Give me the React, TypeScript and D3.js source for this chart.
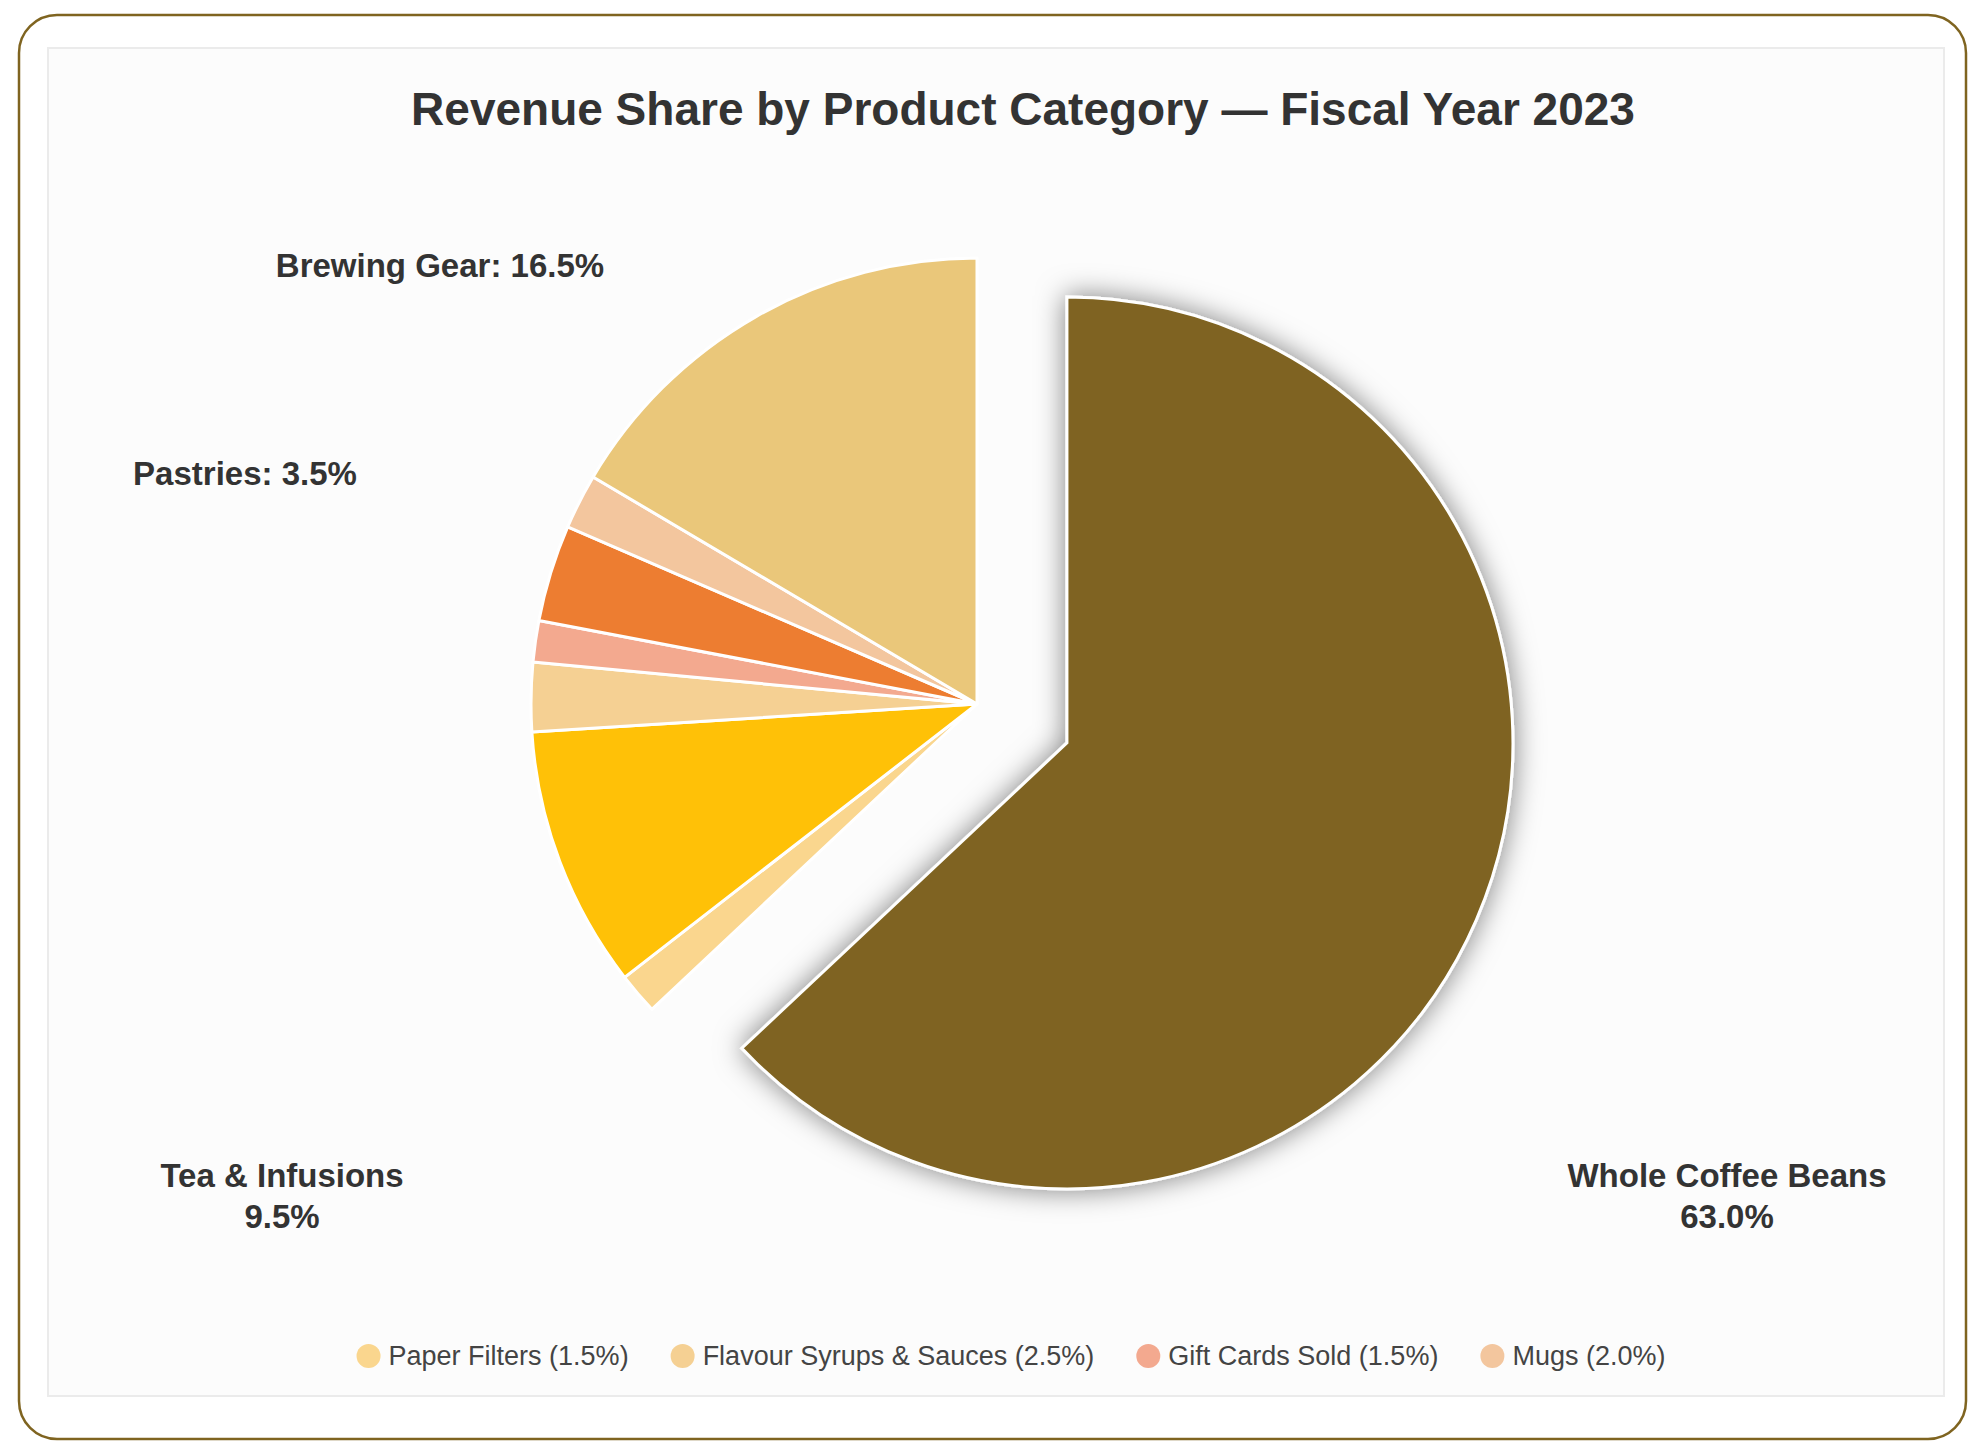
import React from 'react';
import * as d3 from 'd3';

// ---------- data ----------
const titleText = 'Revenue Share by Product Category — Fiscal Year 2023';
const categories = [
  'Whole Coffee Beans',
  'Paper Filters',
  'Tea & Infusions',
  'Flavour Syrups & Sauces',
  'Gift Cards Sold',
  'Pastries',
  'Mugs',
  'Brewing Gear',
];
const shares = [63.0, 1.5, 9.5, 2.5, 1.5, 3.5, 2.0, 16.5];
const sliceColors = ['#7F6420', '#FAD68E', '#FFC107', '#F5D093', '#F3A98F', '#ED7D31', '#F3C69E', '#EAC77A'];
const explodedCategory = 'Whole Coffee Beans';
const legendCategories = ['Paper Filters', 'Flavour Syrups & Sauces', 'Gift Cards Sold', 'Mugs'];

// ---------- layout (not data) ----------
const W = 1969;
const H = 1442;
const FONT = "'Liberation Sans', Arial, sans-serif";
const CX = 977;
const CY = 704;
const R = 446;
const EXPLODE = 98;
const labelLayout: Record<string, { x: number; y: number; twoLines: boolean }> = {
  'Brewing Gear': { x: 440, y: 266, twoLines: false },
  Pastries: { x: 245, y: 474, twoLines: false },
  'Tea & Infusions': { x: 282, y: 1196, twoLines: true },
  'Whole Coffee Beans': { x: 1727, y: 1196, twoLines: true },
};

export default function App() {
  const ref = React.useRef<SVGSVGElement>(null);

  React.useEffect(() => {
    const svg = d3.select(ref.current as SVGSVGElement);
    svg.selectAll('*').remove();

    const defs = svg.append('defs');
    const sf = defs
      .append('filter')
      .attr('id', 'sliceShadow')
      .attr('x', '-30%')
      .attr('y', '-30%')
      .attr('width', '160%')
      .attr('height', '160%');
    sf.append('feDropShadow')
      .attr('dx', 0)
      .attr('dy', 0)
      .attr('stdDeviation', 14)
      .attr('flood-color', '#000')
      .attr('flood-opacity', 0.5);

    svg.append('rect').attr('width', W).attr('height', H).attr('fill', '#ffffff');
    svg
      .append('rect')
      .attr('x', 19)
      .attr('y', 15)
      .attr('width', 1947)
      .attr('height', 1424)
      .attr('rx', 38)
      .attr('fill', '#ffffff')
      .attr('stroke', '#7F6420')
      .attr('stroke-width', 2.5);
    svg
      .append('rect')
      .attr('x', 48)
      .attr('y', 48)
      .attr('width', 1896)
      .attr('height', 1348)
      .attr('fill', '#fcfcfc')
      .attr('stroke', '#ebebeb')
      .attr('stroke-width', 2);

    // title
    svg
      .append('text')
      .attr('x', 1023)
      .attr('y', 125)
      .attr('text-anchor', 'middle')
      .attr('font-family', FONT)
      .attr('font-size', 46)
      .attr('font-weight', 'bold')
      .attr('fill', '#333333')
      .text(titleText);

    // pie
    type Datum = { name: string; value: number; color: string };
    const data: Datum[] = categories.map((c, i) => ({ name: c, value: shares[i], color: sliceColors[i] }));
    const pie = d3
      .pie<Datum>()
      .sort(null)
      .value((d) => d.value)
      .startAngle(0)
      .endAngle(Math.PI * 2);
    const arcs = pie(data);
    const arc = d3.arc<d3.PieArcDatum<Datum>>().innerRadius(0).outerRadius(R);

    const g = svg.append('g').attr('transform', `translate(${CX},${CY})`);
    const normal = arcs.filter((a) => a.data.name !== explodedCategory);
    const exploded = arcs.filter((a) => a.data.name === explodedCategory);

    g.selectAll('path.normal')
      .data(normal)
      .join('path')
      .attr('class', 'normal')
      .attr('d', (d) => arc(d) as string)
      .attr('fill', (d) => d.data.color)
      .attr('stroke', '#ffffff')
      .attr('stroke-width', 3)
      .attr('stroke-linejoin', 'round');

    g.selectAll('path.exploded')
      .data(exploded)
      .join('path')
      .attr('class', 'exploded')
      .attr('transform', (d) => {
        const mid = (d.startAngle + d.endAngle) / 2;
        return `translate(${Math.sin(mid) * EXPLODE},${-Math.cos(mid) * EXPLODE})`;
      })
      .attr('d', (d) => arc(d) as string)
      .attr('fill', (d) => d.data.color)
      .attr('stroke', '#ffffff')
      .attr('stroke-width', 3)
      .attr('filter', 'url(#sliceShadow)');

    // labels
    const fmt = (v: number) => `${v.toFixed(1)}%`;
    arcs.forEach((a) => {
      const lay = labelLayout[a.data.name];
      if (!lay) return;
      const t = svg
        .append('text')
        .attr('text-anchor', 'middle')
        .attr('font-family', FONT)
        .attr('font-size', 33)
        .attr('font-weight', 'bold')
        .attr('fill', '#333333');
      if (lay.twoLines) {
        t.append('tspan').attr('x', lay.x).attr('y', lay.y - 9).text(a.data.name);
        t.append('tspan').attr('x', lay.x).attr('y', lay.y + 32).text(fmt(a.data.value));
      } else {
        t.attr('x', lay.x).attr('y', lay.y + 11).text(`${a.data.name}: ${fmt(a.data.value)}`);
      }
    });

    // legend
    const legendY = 1356;
    const lg = svg.append('g');
    const items = legendCategories.map((name) => {
      const i = categories.indexOf(name);
      return { name, color: sliceColors[i], value: shares[i] };
    });
    let x = 0;
    const gap = 42;
    items.forEach((it) => {
      const ig = lg.append('g').attr('transform', `translate(${x},0)`);
      ig.append('circle')
        .attr('cx', 12)
        .attr('cy', legendY)
        .attr('r', 12)
        .attr('fill', it.color);
      const tx = ig
        .append('text')
        .attr('x', 32)
        .attr('y', legendY + 9)
        .attr('font-family', FONT)
        .attr('font-size', 27)
        .attr('fill', '#444444')
        .text(`${it.name} (${fmt(it.value)})`);
      const len = (tx.node() as SVGTextElement).getComputedTextLength();
      x += 32 + len + gap;
    });
    const total = x - gap;
    lg.attr('transform', `translate(${1011 - total / 2},0)`);
  }, []);

  return (
    <svg
      ref={ref}
      width={W}
      height={H}
      style={{ position: 'absolute', left: 0, top: 0, display: 'block' }}
    />
  );
}
